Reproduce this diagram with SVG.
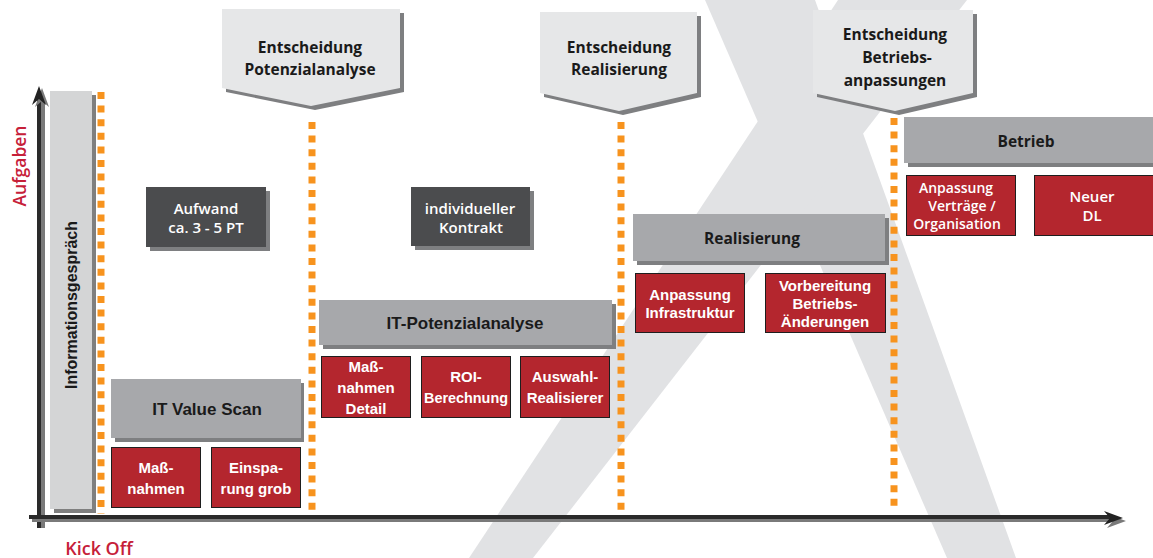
<svg xmlns="http://www.w3.org/2000/svg" width="1153" height="558" viewBox="0 0 1153 558">
<defs>
<style>
.bg{fill:#e1e2e4}
.hdrbox{fill:#e6e7e8}
.shd{fill:#7e7f81}
.gray{fill:#a7a8ab}
.dark{fill:#4b4c4e}
.red{fill:#b4262e;stroke:#1e1e1e;stroke-width:1}
.dot{stroke:#f7931e;stroke-width:7;stroke-dasharray:7 6.6;fill:none}
.hum{font-family:"Open Sans","Noto Sans",sans-serif;font-weight:600;text-anchor:middle}
.humb{font-family:"Open Sans","Noto Sans",sans-serif;font-weight:700;text-anchor:middle}
.ari{font-family:"Liberation Sans",Arial,sans-serif;font-weight:bold;text-anchor:middle}
.blk{fill:#1a1a1a}
.wht{fill:#ffffff}
.crim{fill:#c62039}
</style>
</defs>
<rect width="1153" height="558" fill="#ffffff"/>
<g id="background-x">
<polygon class="bg" points="705,0 815,0 1016,558 947,558"/>
<polygon class="bg" points="838,0 967,0 533,558 469,558"/>
</g>
<g id="axes">
<line x1="43" y1="528" x2="43" y2="96" stroke="#7a7a7a" stroke-width="4"/>
<line x1="39" y1="528" x2="39" y2="96" stroke="#2a2a2a" stroke-width="4"/>
<polygon points="42,88 49,107 42,101 35,107" fill="#7a7a7a"/>
<polygon points="39,86 46,105 39,99 32,105" fill="#222"/>
<line x1="32" y1="520" x2="1112" y2="520" stroke="#7a7a7a" stroke-width="4"/>
<line x1="29" y1="517" x2="1112" y2="517" stroke="#2a2a2a" stroke-width="4"/>
<polygon points="1126,521 1107,528 1113,521 1107,514" fill="#7a7a7a"/>
<polygon points="1123,518 1104,525 1110,518 1104,511" fill="#222"/>
<text class="hum crim" font-size="17.5" transform="translate(26,166) rotate(-90)">Aufgaben</text>
<text class="hum crim" font-size="18" x="99" y="555">Kick Off</text>
</g>
<g id="info">
<rect x="54" y="95" width="42" height="418" fill="#7f7f7f"/>
<rect x="50" y="91" width="42" height="418" fill="#d4d5d6"/>
<text class="ari blk" font-size="16" transform="translate(77,305) rotate(-90)">Informationsgespräch</text>
</g>
<g id="connectors">
<line class="dot" x1="101" y1="92" x2="101" y2="514"/>
<line class="dot" x1="312" y1="122" x2="312" y2="514"/>
<line class="dot" x1="621" y1="122" x2="621" y2="514"/>
<line class="dot" x1="894" y1="118" x2="894" y2="510"/>
</g>
<g id="hdr-potenzial">
<polygon class="shd" points="226,13 404,13 404,92 315,110 226,92"/>
<polygon class="hdrbox" points="222,9 400,9 400,88 311,106 222,88"/>
<text class="humb blk" font-size="15.5" x="310" y="53">Entscheidung</text>
<text class="humb blk" font-size="15.5" x="310" y="75">Potenzialanalyse</text>
</g>
<g id="hdr-realisierung">
<polygon class="shd" points="544,16 701,16 701,97 623,115 544,97"/>
<polygon class="hdrbox" points="540,12 697,12 697,93 619,111 540,93"/>
<text class="humb blk" font-size="15.5" x="619" y="53">Entscheidung</text>
<text class="humb blk" font-size="15.5" x="619" y="75">Realisierung</text>
</g>
<g id="hdr-betrieb">
<polygon class="shd" points="817,14 977,14 977,97 899,115 817,97"/>
<polygon class="hdrbox" points="813,10 973,10 973,93 895,111 813,93"/>
<text class="humb blk" font-size="15.5" x="895" y="40">Entscheidung</text>
<text class="humb blk" font-size="15.5" x="897" y="63">Betriebs-</text>
<text class="humb blk" font-size="15.5" x="895" y="86">anpassungen</text>
</g>
<g id="aufwand">
<rect class="shd" x="150" y="191" width="120" height="60"/>
<rect class="dark" x="146" y="187" width="120" height="60"/>
<text class="hum wht" font-size="15" x="206" y="214">Aufwand</text>
<text class="hum wht" font-size="15" x="206" y="233">ca. 3  -  5 PT</text>
</g>
<g id="kontrakt">
<rect class="shd" x="415" y="191" width="119" height="59"/>
<rect class="dark" x="411" y="187" width="119" height="59"/>
<text class="hum wht" font-size="15" x="470" y="214">individueller</text>
<text class="hum wht" font-size="15" x="471" y="233">Kontrakt</text>
</g>
<g id="it-value-scan">
<rect class="shd" x="115" y="383" width="189" height="59"/>
<rect class="gray" x="111" y="379" width="190" height="59"/>
<text class="ari blk" font-size="17" x="207" y="415">IT Value Scan</text>
</g>
<g id="massnahmen">
<rect class="red" x="111.5" y="447.5" width="89" height="60"/>
<text class="ari wht" font-size="15" x="156" y="473">Maß-</text>
<text class="ari wht" font-size="15" x="156" y="494">nahmen</text>
</g>
<g id="einsparung">
<rect class="red" x="211.5" y="447.5" width="89" height="60"/>
<text class="ari wht" font-size="15" x="256" y="473">Einspa-</text>
<text class="ari wht" font-size="15" x="256" y="494">rung grob</text>
</g>
<g id="it-potenzialanalyse">
<rect class="shd" x="323" y="304" width="293" height="45"/>
<rect class="gray" x="319" y="300" width="293" height="45"/>
<text class="ari blk" font-size="17" x="465" y="329">IT-Potenzialanalyse</text>
</g>
<g id="massnahmen-detail">
<rect class="red" x="321.5" y="356.5" width="89" height="61"/>
<text class="ari wht" font-size="15" x="366" y="372">Maß-</text>
<text class="ari wht" font-size="15" x="366" y="393">nahmen</text>
<text class="ari wht" font-size="15" x="366" y="414">Detail</text>
</g>
<g id="roi">
<rect class="red" x="421.5" y="356.5" width="89" height="61"/>
<text class="ari wht" font-size="15" x="466" y="382">ROI-</text>
<text class="ari wht" font-size="15" x="466" y="403" textLength="84" lengthAdjust="spacingAndGlyphs">Berechnung</text>
</g>
<g id="auswahl">
<rect class="red" x="520.5" y="356.5" width="89" height="61"/>
<text class="ari wht" font-size="15" x="565" y="382">Auswahl-</text>
<text class="ari wht" font-size="15" x="565" y="403">Realisierer</text>
</g>
<g id="realisierung">
<rect class="shd" x="637" y="218" width="252" height="47"/>
<rect class="gray" x="633" y="214" width="252" height="47"/>
<text class="humb blk" font-size="15.5" x="752" y="244">Realisierung</text>
</g>
<g id="anpassung-infra">
<rect class="red" x="635.5" y="273.5" width="109" height="59"/>
<text class="ari wht" font-size="15" x="690" y="300">Anpassung</text>
<text class="ari wht" font-size="15" x="690" y="318">Infrastruktur</text>
</g>
<g id="vorbereitung">
<rect class="red" x="765.5" y="273.5" width="120" height="59"/>
<text class="ari wht" font-size="15" x="825" y="291">Vorbereitung</text>
<text class="ari wht" font-size="15" x="825" y="309">Betriebs-</text>
<text class="ari wht" font-size="15" x="825" y="327">Änderungen</text>
</g>
<g id="betrieb">
<rect class="shd" x="908" y="121" width="250" height="46"/>
<rect class="gray" x="904" y="117" width="249" height="46"/>
<text class="humb blk" font-size="15.5" x="1026" y="147">Betrieb</text>
</g>
<g id="anpassung-vertraege">
<rect class="red" x="906.5" y="175.5" width="109" height="60"/>
<text class="hum wht" font-size="14" x="956" y="193">Anpassung</text>
<text class="hum wht" font-size="14" x="962" y="211">Verträge /</text>
<text class="hum wht" font-size="14" x="957" y="229">Organisation</text>
</g>
<g id="neuer-dl">
<rect class="red" x="1034.5" y="175.5" width="125" height="60"/>
<text class="hum wht" font-size="15" x="1092" y="202">Neuer</text>
<text class="hum wht" font-size="15" x="1092" y="221">DL</text>
</g>
</svg>
